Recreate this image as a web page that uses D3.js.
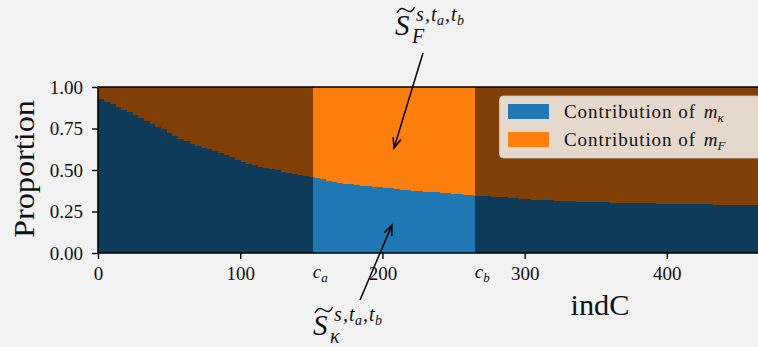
<!DOCTYPE html>
<html>
<head>
<meta charset="utf-8">
<script src="https://cdn.jsdelivr.net/npm/d3@7"></script>
<style>
  html, body { margin: 0; padding: 0; background: #f2f2f2; }
  svg { display: block; }
  text { font-family: "Liberation Serif", "DejaVu Serif", serif; fill: #111; }
</style>
</head>
<body>
<svg id="chart" width="758" height="347"></svg>
<script>
// indC bin starts (each bin spans 4 indices)
const indC = [
  0, 4, 8, 12, 16, 20, 24, 28, 32, 36, 40, 44, 48, 52, 56, 60, 64, 68, 72, 76,
  80, 84, 88, 92, 96, 100, 104, 108, 112, 116, 120, 124, 128, 132, 136, 140, 144, 148, 152, 156,
  160, 164, 168, 172, 176, 180, 184, 188, 192, 196, 200, 204, 208, 212, 216, 220, 224, 228, 232, 236,
  240, 244, 248, 252, 256, 260, 264, 268, 272, 276, 280, 284, 288, 292, 296, 300, 304, 308, 312, 316,
  320, 324, 328, 332, 336, 340, 344, 348, 352, 356, 360, 364, 368, 372, 376, 380, 384, 388, 392, 396,
  400, 404, 408, 412, 416, 420, 424, 428, 432, 436, 440, 444, 448, 452, 456, 460, 464
];
// proportion contributed by m_kappa in each bin
const kappaShare = [
  0.926, 0.912, 0.896, 0.881, 0.864, 0.847, 0.830, 0.812, 0.795, 0.779, 0.762, 0.745, 0.725, 0.705, 0.687, 0.673, 0.659, 0.645, 0.635, 0.624,
  0.613, 0.601, 0.588, 0.576, 0.563, 0.550, 0.538, 0.529, 0.520, 0.512, 0.505, 0.497, 0.490, 0.484, 0.477, 0.471, 0.465, 0.459, 0.452, 0.444,
  0.436, 0.428, 0.423, 0.418, 0.414, 0.410, 0.406, 0.402, 0.399, 0.396, 0.393, 0.389, 0.385, 0.381, 0.378, 0.375, 0.372, 0.370, 0.367, 0.365,
  0.362, 0.359, 0.356, 0.353, 0.350, 0.347, 0.345, 0.343, 0.341, 0.339, 0.338, 0.336, 0.334, 0.331, 0.327, 0.323, 0.321, 0.319, 0.318, 0.317,
  0.316, 0.314, 0.313, 0.311, 0.310, 0.309, 0.308, 0.307, 0.306, 0.305, 0.304, 0.303, 0.302, 0.301, 0.301, 0.300, 0.299, 0.299, 0.298, 0.297,
  0.296, 0.296, 0.295, 0.295, 0.294, 0.294, 0.293, 0.293, 0.292, 0.292, 0.291, 0.291, 0.290, 0.290, 0.289, 0.289, 0.289
];
const binWidth = 4;
const windowBounds = [151, 265];          // c_a, c_b
const windowLabels = ["c", "c"];
const windowSubs = ["a", "b"];
const xTicks = [0, 100, 200, 300, 400];
const yTicks = [0, 0.25, 0.5, 0.75, 1];
const legendLabels = ["Contribution of ", "Contribution of "];
const legendSubs = ["κ", "F"];
const seriesColors = ["#1f77b4", "#ff7f0e"];

const svg = d3.select("#chart");
const x = d3.scaleLinear().domain([0, 706]).range([98, 1102]);
const y = d3.scaleLinear().domain([0, 1]).range([253, 87]);
const xEnd = 758;

const bins = indC.map((c, i) => ({ c, v: kappaShare[i] }));

// stacked bars: m_kappa at the bottom, m_F on top
const barW = d => x(d.c + binWidth) - x(d.c) + 0.5;
const bars = svg.append("g").attr("shape-rendering", "crispEdges");
bars.append("rect").attr("x", x(0)).attr("width", xEnd - x(0) + 10)
  .attr("y", y(1)).attr("height", y(0) - y(1)).attr("fill", seriesColors[1]);
bars.append("g").selectAll("rect").data(bins).join("rect")
  .attr("x", d => x(d.c)).attr("width", barW)
  .attr("y", d => y(d.v)).attr("height", d => y(0) - y(d.v))
  .attr("fill", seriesColors[0]);

// shade everything outside the [c_a, c_b] window
const shade = svg.append("g").attr("shape-rendering", "crispEdges");
shade.append("rect").attr("x", x(0)).attr("width", x(windowBounds[0]) - x(0))
  .attr("y", y(1)).attr("height", y(0) - y(1)).attr("fill", "#000").attr("opacity", 0.5);
shade.append("rect").attr("x", x(windowBounds[1])).attr("width", xEnd - x(windowBounds[1]) + 10)
  .attr("y", y(1)).attr("height", y(0) - y(1)).attr("fill", "#000").attr("opacity", 0.5);

// axes
const yAxis = svg.append("g").attr("transform", `translate(${x(0)},0)`)
  .call(d3.axisLeft(y).tickValues(yTicks).tickFormat(d3.format(".2f")).tickSize(6).tickPadding(9));
const xAxis = svg.append("g").attr("transform", `translate(0,${y(0)})`)
  .call(d3.axisBottom(x).tickValues(xTicks).tickFormat(d3.format("d")).tickSize(6).tickPadding(8));
[yAxis, xAxis].forEach(g => {
  g.select(".domain").remove();
  g.selectAll(".tick line").attr("stroke", "#000").attr("stroke-width", 1.4);
  g.selectAll(".tick text").attr("font-size", 19).attr("font-family", "Liberation Serif, serif").attr("fill", "#111");
});

// spines
svg.append("line").attr("x1", x(0)).attr("x2", x(0)).attr("y1", y(1) - 0.8).attr("y2", y(0) + 0.8)
  .attr("stroke", "#000").attr("stroke-width", 1.6);
svg.append("line").attr("x1", x(0)).attr("x2", xEnd + 5).attr("y1", y(0)).attr("y2", y(0))
  .attr("stroke", "#000").attr("stroke-width", 1.6);
svg.append("line").attr("x1", x(0)).attr("x2", xEnd + 5).attr("y1", y(1)).attr("y2", y(1))
  .attr("stroke", "#000").attr("stroke-width", 1.6);

// c_a / c_b labels
windowBounds.forEach((b, i) => {
  const t = svg.append("text").attr("x", x(b)).attr("y", 278).attr("font-size", 19);
  t.append("tspan").attr("font-style", "italic").text(windowLabels[i]);
  t.append("tspan").attr("font-style", "italic").attr("font-size", 13).attr("dy", 4).text(windowSubs[i]);
});

// axis titles
svg.append("text").attr("transform", "translate(34,169) rotate(-90)")
  .attr("text-anchor", "middle").attr("font-size", 29)
  .attr("textLength", 138).attr("lengthAdjust", "spacingAndGlyphs").text("Proportion");
svg.append("text").attr("x", 600).attr("y", 315).attr("text-anchor", "middle")
  .attr("font-size", 29).attr("textLength", 59).attr("lengthAdjust", "spacingAndGlyphs").text("indC");

// legend
const lg = svg.append("g");
lg.append("rect").attr("x", 499.5).attr("y", 96).attr("width", 300).attr("height", 62).attr("rx", 4)
  .attr("fill", "#fff").attr("fill-opacity", 0.8).attr("stroke", "#cccccc").attr("stroke-opacity", 0.8);
legendLabels.forEach((lab, i) => {
  const cy = 111.5 + i * 28;
  lg.append("rect").attr("x", 508).attr("y", cy - 7.5).attr("width", 41).attr("height", 15).attr("fill", seriesColors[i]);
  const t = lg.append("text").attr("x", 564).attr("y", cy + 6.5).attr("font-size", 19);
  t.append("tspan").attr("letter-spacing", 0.95).text(lab);
  t.append("tspan").attr("font-style", "italic").attr("dx", 2).text("m");
  t.append("tspan").attr("font-style", "italic").attr("font-size", 13).attr("dy", 4).text(legendSubs[i]);
});

// S-tilde annotations with arrows
function sTilde(x0, base, sub) {
  const g = svg.append("g");
  g.append("path")
    .attr("d", `M${x0 + 2},${base - 22} C${x0 + 5},${base - 28} ${x0 + 8},${base - 27} ${x0 + 11},${base - 25} C${x0 + 14},${base - 23} ${x0 + 17},${base - 22} ${x0 + 19.5},${base - 28}`)
    .attr("fill", "none").attr("stroke", "#111").attr("stroke-width", 1.4);
  g.append("text").attr("x", x0).attr("y", base).attr("font-size", 29).attr("font-style", "italic").text("S");
  const sup = g.append("text").attr("font-size", 20).attr("font-style", "italic");
  const parts = [["s", 0, 20], [",", 9, 20], ["t", 15, 20], ["a", 21, 14], [",", 29, 20], ["t", 35, 20], ["b", 41, 14]];
  parts.forEach(([ch, dx, fs]) => {
    sup.append("tspan").attr("x", x0 + 21 + dx).attr("y", base - 14 + (fs < 20 ? 4 : 0))
      .attr("font-size", fs).text(ch);
  });
  g.append("text").attr("x", x0 + 17).attr("y", base + 8).attr("font-size", 20).attr("font-style", "italic").text(sub);
}
sTilde(395, 35, "F");
sTilde(313, 335, "κ");

function arrow(x1, y1, x2, y2) {
  const a = Math.atan2(y2 - y1, x2 - x1), L = 11, spread = 0.38;
  const p = d3.path();
  p.moveTo(x1, y1); p.lineTo(x2, y2);
  p.moveTo(x2 - L * Math.cos(a - spread), y2 - L * Math.sin(a - spread));
  p.lineTo(x2, y2);
  p.lineTo(x2 - L * Math.cos(a + spread), y2 - L * Math.sin(a + spread));
  svg.append("path").attr("d", p.toString()).attr("fill", "none")
    .attr("stroke", "#000").attr("stroke-width", 1.5);
}
arrow(423, 53, 394, 148);
arrow(360, 300, 392, 225);
</script>
</body>
</html>
